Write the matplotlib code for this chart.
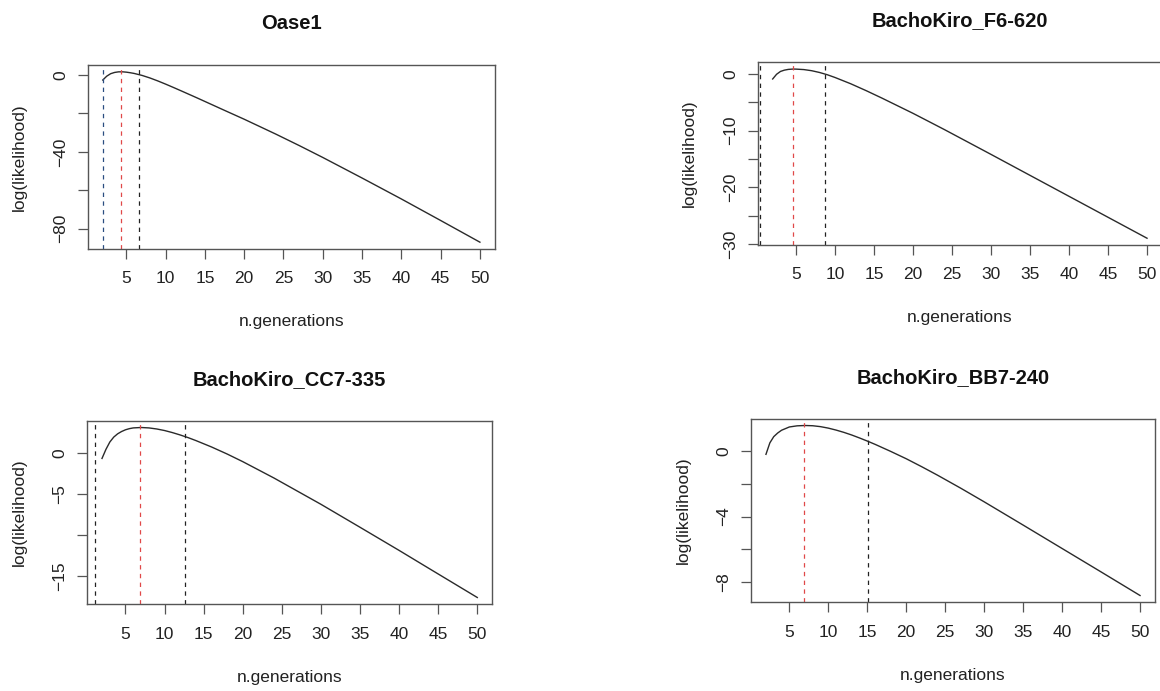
import matplotlib
matplotlib.use("Agg")
import matplotlib.pyplot as plt

plt.rcParams['font.family'] = ['Liberation Sans', 'DejaVu Sans']

# data
titles = ["Oase1", "BachoKiro_F6-620", "BachoKiro_CC7-335", "BachoKiro_BB7-240"]

oase_x = [2, 2.5, 3, 3.5, 4, 4.5, 5, 5.5, 6, 7, 8, 9, 10, 11, 12, 14, 17.5, 20, 24, 27, 30,
          35, 40, 45, 50]
oase_y = [-2.6, -0.6, 0.7, 1.35, 1.66, 1.68, 1.5, 1.2, 0.83, -0.2, -1.52, -3.06, -4.73, -6.48,
          -8.27, -11.9, -18.4, -23.0, -30.7, -36.7, -42.9, -53.6, -64.5, -75.7, -87.0]

f6_x = [2, 2.5, 3, 3.5, 4, 4.6, 5, 6, 7, 8, 9, 10, 12, 14, 16, 20, 24, 30, 35, 40, 45, 50]
f6_y = [-0.88, -0.05, 0.45, 0.68, 0.81, 0.87, 0.86, 0.78, 0.58, 0.27, -0.13, -0.62, -1.72,
        -2.95, -4.25, -6.95, -9.8, -14.2, -17.9, -21.6, -25.3, -29.0]

cc7_x = [2, 2.5, 3, 3.5, 4, 4.5, 5, 5.5, 6, 7, 8, 9, 10, 11, 12, 13, 14, 16, 18, 20, 24,
         30, 35, 40, 44, 50]
cc7_y = [-0.65, 0.45, 1.35, 1.95, 2.35, 2.63, 2.84, 2.98, 3.07, 3.12, 3.07, 2.94, 2.75, 2.5,
         2.21, 1.89, 1.53, 0.75, -0.11, -1.04, -3.04, -6.24, -9.04, -11.86, -14.16, -17.6]

bb7_x = [2, 2.5, 3, 3.5, 4, 5, 6, 7, 8, 9, 10, 11, 12, 13, 14, 15, 16, 18, 20, 22, 24, 27,
         30, 35, 40, 45, 50]
bb7_y = [-0.2, 0.5, 0.88, 1.1, 1.27, 1.47, 1.54, 1.56, 1.545, 1.49, 1.40, 1.28, 1.14, 0.98,
         0.8, 0.61, 0.41, -0.02, -0.47, -0.96, -1.47, -2.27, -3.1, -4.52, -5.95, -7.38, -8.82]

# dashed vertical markers (black/dark and red)
dark_lines = [[2.02, 6.58], [0.38, 8.66], [1.1, 12.67], [15.08]]
red_lines = [4.28, 4.57, 6.89, 6.88]

xticks = [5, 10, 15, 20, 25, 30, 35, 40, 45, 50]
yticks = [[0, -20, -40, -60, -80],
          [0, -5, -10, -15, -20, -25, -30],
          [0, -5, -10, -15],
          [0, -2, -4, -6, -8]]
ylabels_shown = [[0, -40, -80],
                 [0, -10, -20, -30],
                 [0, -5, -15],
                 [0, -4, -8]]

W, H = 1160, 691
# axes boxes in pixels: left, top, right, bottom
boxes = [(87.7, 65, 495, 249),
         (757.7, 62.3, 1162, 245),
         (87, 420.7, 492.3, 604.3),
         (751, 418.7, 1155, 602.3)]


def px_rect(left, top, right, bottom):
    return [left / W, 1 - bottom / H, (right - left) / W, (bottom - top) / H]


def fmt(v):
    return str(v).replace('-', '\u2212')


fig = plt.figure(figsize=(W / 100, H / 100), dpi=100)

series = [(oase_x, oase_y), (f6_x, f6_y), (cc7_x, cc7_y), (bb7_x, bb7_y)]
for i, (xs, ys) in enumerate(series):
    ax = fig.add_axes(px_rect(*boxes[i]))
    ax.plot(xs, ys, color='#2a2a2a', lw=1.0)

    # R style 4% padding
    xr = max(xs) - min(xs)
    yr = max(ys) - min(ys)
    ax.set_xlim(min(xs) - 0.04 * xr, max(xs) + 0.04 * xr)
    ax.set_ylim(min(ys) - 0.04 * yr, max(ys) + 0.04 * yr)

    for j, v in enumerate(dark_lines[i]):
        col = '#2a4d80' if (i == 0 and j == 0) else '#222222'
        ax.axvline(v, color=col, lw=0.9, linestyle=(0, (3.5, 3.5)))
    ax.axvline(red_lines[i], color='#e04848', lw=0.9, linestyle=(0, (3.5, 3.5)))

    ax.set_xticks(xticks)
    ax.set_xticklabels([str(t) for t in xticks])
    ax.set_yticks(yticks[i])
    ax.set_yticklabels([fmt(t) if t in ylabels_shown[i] else '' for t in yticks[i]],
                       rotation=90, va='center')
    ax.tick_params(direction='out', length=7, width=0.9, color='#555555',
                   labelsize=12.5, labelcolor='#222222')
    ax.tick_params(axis='x', pad=9)
    ax.tick_params(axis='y', pad=7)
    for sp in ax.spines.values():
        sp.set_color('#555555')
        sp.set_linewidth(1.0)

    ax.set_title(titles[i], fontsize=14.5, fontweight='bold', pad=26, color='#111111')
    ax.annotate('n.generations', xy=(0.5, 0), xycoords='axes fraction',
                xytext=(0, -47), textcoords='offset points',
                ha='center', va='top', fontsize=12.5, color='#222222')
    ax.annotate('log(likelihood)', xy=(0, 0.5), xycoords='axes fraction',
                xytext=(-49, 0), textcoords='offset points',
                ha='center', va='center', rotation=90, fontsize=12.5, color='#222222')

fig.savefig('out.png', dpi=100)
